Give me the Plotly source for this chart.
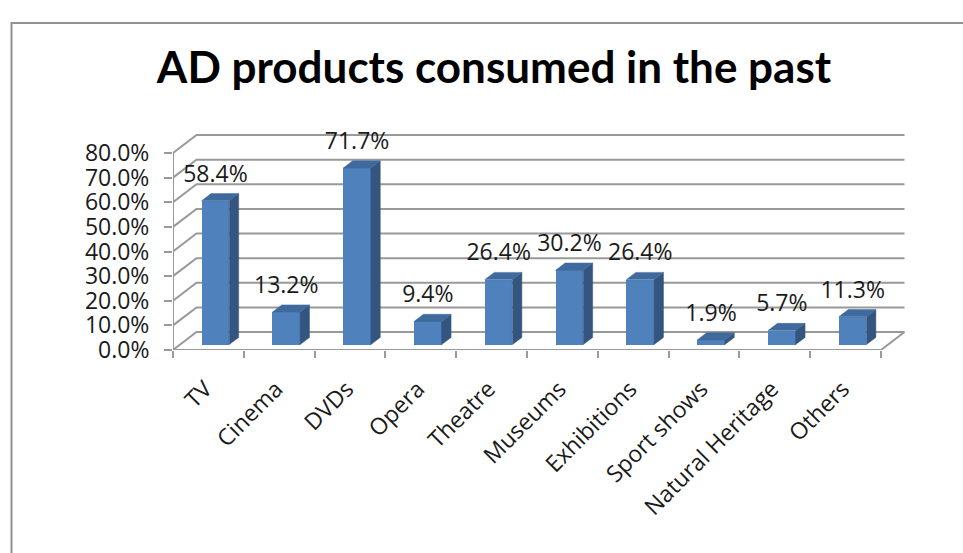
import plotly.graph_objects as go

# ---- data -----------------------------------------------------------------
categories = ["TV", "Cinema", "DVDs", "Opera", "Theatre", "Museums",
              "Exhibitions", "Sport shows", "Natural Heritage", "Others"]
values = [58.4, 13.2, 71.7, 9.4, 26.4, 30.2, 26.4, 1.9, 5.7, 11.3]   # percent
y_ticks = [0, 10, 20, 30, 40, 50, 60, 70, 80]
y_tick_labels = ["0.0%", "10.0%", "20.0%", "30.0%", "40.0%",
                 "50.0%", "60.0%", "70.0%", "80.0%"]

# ---- page geometry (pixels) ---------------------------------------------
W, H = 963, 553
M_L, M_R, M_T, M_B = 173, 30, 100, 203
PX_PER_CAT = 70.8          # horizontal pixels per category slot
PX_PER_PCT = 2.4625        # vertical pixels per percentage point
plot_w = W - M_L - M_R
plot_h = H - M_T - M_B
x_range = [-0.5, -0.5 + plot_w / PX_PER_CAT]
y_range = [0, plot_h / PX_PER_PCT]

# oblique depth vector of the 3-D box, expressed in axis units
DEPTH_DX = 23.5 / PX_PER_CAT
DEPTH_DY = 18.0 / PX_PER_PCT
BAR_FRONT, BAR_BACK = 0.30, 0.70   # bar position inside the depth
BAR_W = 0.39

FRONT = "#4F81BD"
SIDE = "#34557F"
TOP = "#3E6A9E"
GRID = "#999999"
TEXT_FONT = dict(family="Open Sans", size=23, color="#1a1a1a")

n = len(categories)
x_left = -0.5
x_right = n - 0.5

fig = go.Figure()

# ---- walls / grid (drawn beneath the columns) -------------------------------
shapes = []
for v in y_ticks:
    path = (f"M {x_left},{v} L {x_left + DEPTH_DX},{v + DEPTH_DY} "
            f"L {x_right + DEPTH_DX},{v + DEPTH_DY}")
    shapes.append(dict(type="path", path=path, xref="x", yref="y",
                       line=dict(color=GRID, width=2), layer="below"))
# floor front edge and right edge
shapes.append(dict(type="path",
                   path=(f"M {x_left},0 L {x_right},0 "
                         f"L {x_right + DEPTH_DX},{DEPTH_DY}"),
                   xref="x", yref="y", line=dict(color=GRID, width=2),
                   layer="below"))
# value axis line
shapes.append(dict(type="line", x0=x_left, x1=x_left, y0=-1.2, y1=y_ticks[-1],
                   xref="x", yref="y", line=dict(color=GRID, width=2),
                   layer="below"))
# outer chart frame
fx0 = (11.5 - M_L) / plot_w
fy1 = (H - M_B - 23) / plot_h
shapes.append(dict(type="rect", x0=fx0, x1=1.3, y0=-1.5, y1=fy1,
                   xref="paper", yref="paper",
                   line=dict(color="#8f8f8f", width=2), layer="below"))

# ---- columns --------------------------------------------------------------
front_x = [i + BAR_FRONT * DEPTH_DX for i in range(n)]
front_base = BAR_FRONT * DEPTH_DY
fig.add_trace(go.Bar(x=front_x, y=values, base=[front_base] * n,
                     width=BAR_W, marker=dict(color=FRONT, line=dict(width=0)),
                     hoverinfo="skip", showlegend=False))

ddx = (BAR_BACK - BAR_FRONT) * DEPTH_DX
ddy = (BAR_BACK - BAR_FRONT) * DEPTH_DY
for cx, v in zip(front_x, values):
    xl, xr = cx - BAR_W / 2, cx + BAR_W / 2
    top = front_base + v
    # right side face
    fig.add_trace(go.Scatter(
        x=[xr, xr + ddx, xr + ddx, xr, xr],
        y=[front_base, front_base + ddy, top + ddy, top, front_base],
        fill="toself", fillcolor=SIDE, mode="lines",
        line=dict(width=0.5, color=SIDE), hoverinfo="skip", showlegend=False))
    # top face
    fig.add_trace(go.Scatter(
        x=[xl, xr, xr + ddx, xl + ddx, xl],
        y=[top, top, top + ddy, top + ddy, top],
        fill="toself", fillcolor=TOP, mode="lines",
        line=dict(width=0.5, color=TOP), hoverinfo="skip", showlegend=False))

# ---- value labels ---------------------------------------------------------
LABEL_LIFT = 25 / PX_PER_PCT
fig.add_trace(go.Scatter(
    x=front_x, y=[front_base + v + LABEL_LIFT for v in values],
    text=[f"{v:.1f}%" for v in values], mode="text",
    textposition="middle center", textfont=TEXT_FONT,
    hoverinfo="skip", showlegend=False))

# category tick marks sit on the slot boundaries
fig.add_trace(go.Scatter(x=[None], y=[None], xaxis="x2", showlegend=False,
                         hoverinfo="skip"))

fig.update_layout(
    width=W, height=H,
    margin=dict(l=M_L, r=M_R, t=M_T, b=M_B, autoexpand=False),
    paper_bgcolor="white", plot_bgcolor="white",
    shapes=shapes,
    title=dict(text="<b>AD products consumed in the past</b>",
               font=dict(family="Lato", size=44, color="black"),
               x=494 / W, xref="container", xanchor="center",
               y=1 - 68 / H, yref="container", yanchor="middle"),
    xaxis=dict(range=x_range, tickmode="array",
               tickvals=list(range(n)), ticktext=categories,
               tickangle=-45, ticks="", showgrid=False, zeroline=False,
               showline=False, tickfont=TEXT_FONT, automargin=False,
               ticklabelstandoff=20, ticklabelshift=-3),
    xaxis2=dict(range=x_range, overlaying="x", side="bottom",
                tickmode="array",
                tickvals=[i - 0.5 for i in range(n + 1)],
                ticks="outside", ticklen=7, tickwidth=2, tickcolor=GRID,
                showticklabels=False, showgrid=False, zeroline=False,
                showline=False, automargin=False),
    yaxis=dict(range=y_range, tickmode="array", tickvals=y_ticks,
               ticktext=y_tick_labels, ticks="outside", ticklen=8,
               tickwidth=2, tickcolor=GRID, showgrid=False, zeroline=False,
               showline=False, tickfont=TEXT_FONT, automargin=False,
               ticklabelstandoff=10),
    bargap=0,
)

fig.write_html("out.html")
